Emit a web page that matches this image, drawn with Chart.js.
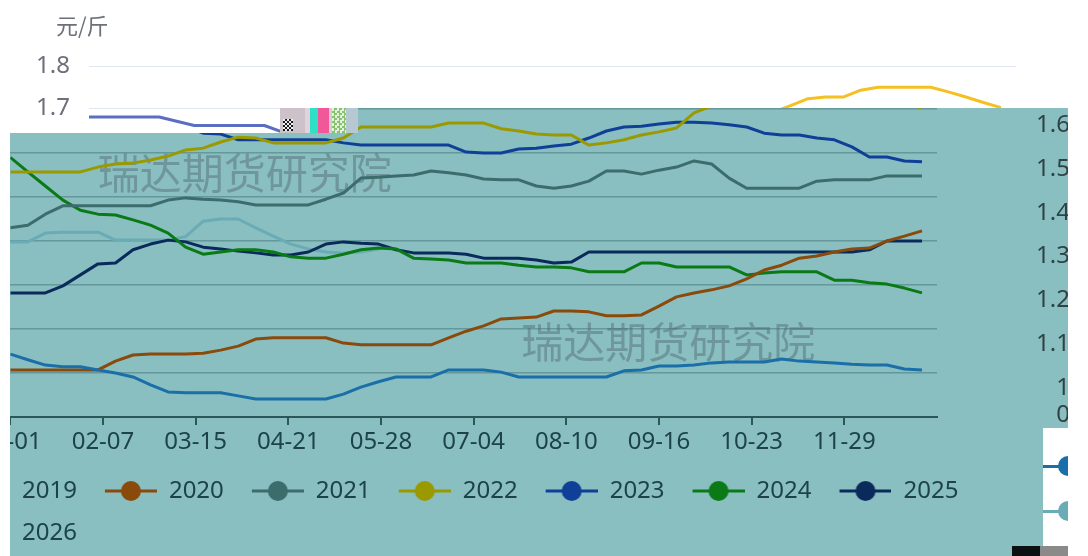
<!DOCTYPE html>
<html lang="zh-CN">
<head>
<meta charset="UTF-8">
<title>季节性价格走势</title>
<script src="https://cdn.jsdelivr.net/npm/chart.js"></script>
<style>
    html, body {
        margin: 0;
        padding: 0;
        width: 1088px;
        height: 556px;
        overflow: hidden;
        background: #fff;
        font-family: "Noto Sans", sans-serif;
    }
    .layer { position: absolute; left: 0; top: 0; width: 1088px; height: 556px; }
    /* teal panel sitting on top of the white chart */
    #tealWrap {
        background: #89bfc0;
        overflow: hidden;
        clip-path: polygon(10px 133px, 280px 133px, 280px 108px, 1068px 108px, 1068px 428px, 1043px 428px, 1043px 556px, 10px 556px);
    }
    #teal { position: absolute; left: -70px; top: 0; }
    .unit {
        position: absolute; left: 56px; top: 8px;
        font: 22px "Noto Sans CJK SC", sans-serif; color: #6e7079;
    }
    .blk { position: absolute; }
    .chk { background: repeating-conic-gradient(#1a1a1a 0 25%, #f0f0f0 0 50%) 0 0 / 4px 4px; }
    .spk { background: repeating-conic-gradient(#86c46e 0 25%, #e6f0de 0 50%) 0 0 / 5px 5px; }
    .dot { position: absolute; width: 20px; height: 20px; border-radius: 50%; }
    .ln { position: absolute; height: 3px; }
</style>
</head>
<body>
<canvas id="base" class="layer" width="1088" height="556"></canvas>
<div class="unit">元/斤</div>

<div id="tealWrap" class="layer">
    <canvas id="teal" width="1158" height="556"></canvas>
</div>

<!-- broken strip at the top of the teal panel -->
<div class="blk" style="left:280px;top:108px;width:25px;height:25px;background:#cdc2c9"></div>
<div class="blk chk" style="left:283px;top:119px;width:10px;height:12px"></div>
<div class="blk" style="left:305px;top:108px;width:5px;height:25px;background:#e0d3dc"></div>
<div class="blk" style="left:310px;top:108px;width:8px;height:25px;background:#2fe0c8"></div>
<div class="blk" style="left:318px;top:108px;width:11px;height:25px;background:#f0589a"></div>
<div class="blk" style="left:329px;top:108px;width:3px;height:25px;background:#d8ccd4"></div>
<div class="blk spk" style="left:332px;top:108px;width:14px;height:25px"></div>
<div class="blk" style="left:346px;top:108px;width:12px;height:25px;background:#b8c8d2"></div>

<!-- cut-off legend markers on the right -->
<div class="ln" style="left:1043px;top:465px;width:20px;background:#1a6fa8"></div>
<div class="dot" style="left:1058px;top:456px;background:#1a6fa8"></div>
<div class="ln" style="left:1043px;top:510px;width:20px;background:#6aabb6"></div>
<div class="dot" style="left:1058px;top:501px;background:#6aabb6"></div>

<div class="blk" style="left:1012px;top:546px;width:28px;height:10px;background:#0b1010"></div>
<div class="blk" style="left:1040px;top:546px;width:28px;height:10px;background:#8a8a8a"></div>
<div class="blk" style="left:1068px;top:0;width:20px;height:556px;background:#fff"></div>

<script>
    // weekly sample dates (day of year on a leap-year calendar)
    const weeks = ['01-01','01-08','01-15','01-22','01-29','02-05','02-12','02-19','02-26',
        '03-04','03-11','03-18','03-25','04-01','04-08','04-15','04-22','04-29',
        '05-06','05-13','05-20','05-27','06-03','06-10','06-17','06-24',
        '07-01','07-08','07-15','07-22','07-29','08-05','08-12','08-19','08-26',
        '09-02','09-09','09-16','09-23','09-30','10-07','10-14','10-21','10-28',
        '11-04','11-11','11-18','11-25','12-02','12-09','12-16','12-23','12-30'];

    const years = ['2019', '2020', '2021', '2022', '2023', '2024', '2025', '2026'];

    const p2019 = [1.143,1.13,1.118,1.114,1.114,1.107,1.1,1.091,1.073,1.057,1.055,1.055,1.055,1.048,1.041,1.041,1.041,1.041,1.041,1.052,1.068,1.08,1.091,1.091,1.091,1.107,1.107,1.107,1.102,1.091,1.091,1.091,1.091,1.091,1.091,1.105,1.107,1.116,1.116,1.118,1.123,1.125,1.125,1.125,1.132,1.127,1.125,1.123,1.12,1.118,1.118,1.109,1.107];
    const p2020 = [1.107,1.107,1.107,1.107,1.107,1.107,1.127,1.141,1.143,1.143,1.143,1.145,1.152,1.161,1.177,1.18,1.18,1.18,1.18,1.168,1.164,1.164,1.164,1.164,1.164,1.18,1.195,1.207,1.223,1.225,1.227,1.241,1.241,1.239,1.23,1.23,1.232,1.252,1.273,1.282,1.289,1.298,1.314,1.334,1.345,1.361,1.366,1.375,1.382,1.384,1.4,1.411,1.423];
    const p2021 = [1.43,1.436,1.461,1.48,1.48,1.48,1.48,1.48,1.48,1.493,1.498,1.495,1.493,1.489,1.482,1.482,1.482,1.482,1.495,1.509,1.543,1.545,1.548,1.55,1.559,1.555,1.55,1.541,1.539,1.539,1.525,1.52,1.525,1.536,1.559,1.559,1.552,1.561,1.568,1.582,1.575,1.543,1.52,1.52,1.52,1.52,1.536,1.539,1.539,1.539,1.548,1.548,1.548];
    const p2022 = [1.557,1.557,1.557,1.557,1.557,1.568,1.575,1.577,1.584,1.593,1.607,1.611,1.625,1.636,1.634,1.623,1.623,1.623,1.623,1.634,1.659,1.659,1.659,1.659,1.659,1.668,1.668,1.668,1.655,1.65,1.643,1.641,1.641,1.618,1.623,1.63,1.641,1.648,1.657,1.691,1.707,1.723,1.727,1.727,1.743,1.75,1.75,1.75,1.75,1.739,1.727,1.714,1.702];
    const p2023 = [1.68,1.68,1.68,1.68,1.68,1.67,1.66,1.66,1.66,1.66,1.66,1.645,1.643,1.63,1.63,1.63,1.63,1.63,1.63,1.623,1.618,1.618,1.618,1.618,1.618,1.618,1.602,1.6,1.6,1.609,1.611,1.616,1.62,1.634,1.65,1.659,1.661,1.666,1.67,1.67,1.668,1.664,1.659,1.645,1.641,1.641,1.634,1.63,1.614,1.591,1.591,1.582,1.58];
    const p2024 = [1.59,1.557,1.525,1.493,1.47,1.461,1.459,1.448,1.436,1.418,1.386,1.37,1.375,1.38,1.38,1.375,1.364,1.361,1.361,1.37,1.38,1.384,1.382,1.361,1.359,1.357,1.35,1.35,1.35,1.345,1.341,1.341,1.339,1.33,1.33,1.33,1.35,1.35,1.341,1.341,1.341,1.341,1.323,1.327,1.33,1.33,1.33,1.311,1.311,1.305,1.302,1.293,1.282];
    const p2025 = [1.282,1.282,1.282,1.298,1.323,1.348,1.35,1.38,1.393,1.402,1.398,1.386,1.382,1.377,1.373,1.368,1.368,1.375,1.393,1.398,1.395,1.393,1.38,1.373,1.373,1.373,1.37,1.361,1.361,1.361,1.357,1.35,1.352,1.375,1.375,1.375,1.375,1.375,1.375,1.375,1.375,1.375,1.375,1.375,1.375,1.375,1.375,1.375,1.375,1.38,1.4,1.4,1.4];
    const p2026 = [1.398,1.398,1.418,1.42,1.42,1.42,1.402,1.402,1.402,1.402,1.41,1.445,1.45,1.45,1.43,1.411,1.393,1.382,1.375,1.373,1.375,1.382];
    const series = [p2019, p2020, p2021, p2022, p2023, p2024, p2025, p2026];

    const tickLabels = ['01-01', '02-07', '03-15', '04-21', '05-28', '07-04', '08-10', '09-16', '10-23', '11-29'];
    const yTicks = [1.0, 1.1, 1.2, 1.3, 1.4, 1.5, 1.6, 1.7, 1.8];
    const rightTickValues = [1.6, 1.5, 1.4, 1.3, 1.2, 1.1, 1.0, 0.938];
    const rightTickLabels = ['1.6', '1.5', '1.4', '1.3', '1.2', '1.1', '1', '0'];

    const baseColors = ['#73c0de', '#91cc75', '#ee6666', '#f5c022', '#5b6fc0', '#3ba272', '#fc8452', '#9a60b4'];
    const tealColors = ['#1a6fa8', '#8a4a0c', '#3d6c6d', '#9a9a00', '#0f3f97', '#0a7a16', '#0b2a5c', '#6aabb6'];

    const watermark = '瑞达期货研究院';
    const wmSpots = [[0.253, 0.307], [0.71, 0.787]];

    const FONT = {size: 24, family: 'Noto Sans'};

    function dayOf(md) {
        const [m, d] = md.split('-').map(Number);
        return (Date.UTC(2024, m - 1, d) - Date.UTC(2024, 0, 1)) / 86400000;
    }

    function points(vals) {
        return vals.map((v, i) => ({x: dayOf(weeks[i]), y: v}));
    }

    // legend marker: short line with a dot, drawn in the right part of the box
    function makeMarker(color) {
        const c = document.createElement('canvas');
        c.width = 62;
        c.height = 24;
        const g = c.getContext('2d');
        g.strokeStyle = color;
        g.lineWidth = 3;
        g.beginPath();
        g.moveTo(10, 12);
        g.lineTo(62, 12);
        g.stroke();
        g.beginPath();
        g.arc(36, 12, 10, 0, Math.PI * 2);
        g.fillStyle = color;
        g.fill();
        return c;
    }
    const markers = tealColors.map(makeMarker);

    const watermarkPlugin = {
        id: 'watermark',
        beforeDatasetsDraw(chart) {
            const {ctx, chartArea: a} = chart;
            ctx.save();
            ctx.font = '42px "Noto Sans CJK SC"';
            ctx.fillStyle = 'rgba(80, 100, 110, 0.45)';
            ctx.textAlign = 'center';
            ctx.textBaseline = 'middle';
            wmSpots.forEach(([fx, fy]) => {
                ctx.fillText(watermark, a.left + fx * (a.right - a.left), a.top + fy * (a.bottom - a.top));
            });
            ctx.restore();
        }
    };

    // white chart underneath
    new Chart(document.getElementById('base'), {
        type: 'line',
        data: {
            datasets: years.map((y, i) => ({
                label: y,
                data: points(series[i]),
                borderColor: baseColors[i],
                borderWidth: 3,
                pointRadius: 0,
                tension: 0,
                borderJoinStyle: 'round'
            }))
        },
        options: {
            responsive: false,
            animation: false,
            events: [],
            layout: {padding: {left: 0, top: 66, right: 72, bottom: 150}},
            plugins: {legend: {display: false}, tooltip: {enabled: false}},
            scales: {
                x: {type: 'linear', min: 0, max: 370, display: false},
                y: {
                    min: 1.0, max: 1.8,
                    afterBuildTicks: s => { s.ticks = yTicks.map(v => ({value: v})); },
                    afterFit: s => { s.width = 89; },
                    grid: {color: '#e0e6f1', drawTicks: false},
                    border: {display: false},
                    ticks: {padding: 19, color: '#6e7079', font: FONT, callback: v => String(v)}
                }
            }
        }
    });

    // teal chart on top
    new Chart(document.getElementById('teal'), {
        type: 'line',
        data: {
            datasets: years.map((y, i) => ({
                label: y,
                data: points(series[i]),
                borderColor: tealColors[i],
                backgroundColor: tealColors[i],
                borderWidth: 3,
                pointRadius: 0,
                tension: 0,
                borderJoinStyle: 'round',
                yAxisID: 'y'
            }))
        },
        options: {
            responsive: false,
            animation: false,
            events: [],
            layout: {padding: {left: 0, top: 65, right: 18, bottom: 1}},
            plugins: {
                tooltip: {enabled: false},
                legend: {
                    position: 'bottom',
                    align: 'start',
                    labels: {
                        usePointStyle: true,
                        pointStyleWidth: 62,
                        padding: 18,
                        color: '#1d4348',
                        font: FONT,
                        generateLabels(chart) {
                            const items = Chart.defaults.plugins.legend.labels.generateLabels(chart);
                            items.forEach(it => { it.pointStyle = markers[it.datasetIndex]; });
                            return items;
                        }
                    }
                }
            },
            scales: {
                x: {
                    type: 'linear', min: 0, max: 370,
                    afterBuildTicks: s => { s.ticks = tickLabels.map(t => ({value: dayOf(t)})); },
                    afterFit: s => { s.height = 44; },
                    grid: {drawOnChartArea: false, tickLength: 8, color: '#2b5759', lineWidth: 2},
                    border: {color: '#2b5759', width: 2},
                    ticks: {color: '#1d4348', font: FONT, padding: 3, maxRotation: 0, autoSkip: false,
                        callback: (v, i) => tickLabels[i]}
                },
                y: {
                    position: 'left', min: 1.0, max: 1.8,
                    afterBuildTicks: s => { s.ticks = yTicks.map(v => ({value: v})); },
                    afterFit: s => { s.width = 80.3; },
                    grid: {color: 'rgba(55, 105, 110, 0.45)', lineWidth: 1.5, drawTicks: false},
                    border: {display: false},
                    ticks: {display: false}
                },
                // empty spacer between the plot and the right-hand labels
                gap: {
                    position: 'right', weight: 0, min: 0, max: 1,
                    afterFit: s => { s.width = 97; },
                    grid: {display: false, drawTicks: false},
                    border: {display: false},
                    ticks: {display: false}
                },
                y2: {
                    position: 'right', weight: 1, min: 0.934, max: 1.737,
                    afterBuildTicks: s => { s.ticks = rightTickValues.map(v => ({value: v})); },
                    afterFit: s => { s.width = 36; },
                    grid: {display: false, drawTicks: false},
                    border: {display: false},
                    ticks: {crossAlign: 'far', padding: 2, autoSkip: false, color: '#2f4346', font: FONT,
                        callback: (v, i) => rightTickLabels[i]}
                }
            }
        },
        plugins: [watermarkPlugin]
    });
</script>
</body>
</html>
